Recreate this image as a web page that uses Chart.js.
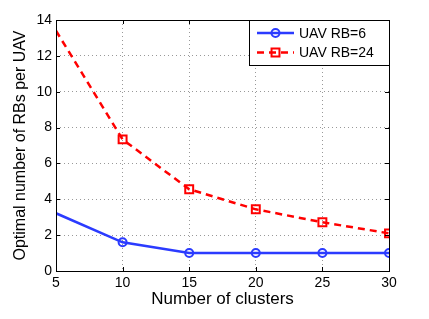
<!DOCTYPE html>
<html lang="en">
<head>
  <meta charset="UTF-8" />
  <title>Optimal number of RBs per UAV</title>
  <script src="https://cdn.jsdelivr.net/npm/chart.js"></script>
  <style>
    html, body { margin: 0; padding: 0; background: #fff; }
    #wrap { width: 429px; height: 319px; }
  </style>
</head>
<body>
  <div id="wrap"><canvas id="c" width="429" height="319"></canvas></div>
  <script>
    const clusters = [5, 10, 15, 20, 25, 30];
    const rb6 = [3.22, 1.6, 1.0, 1.0, 1.0, 1.0];
    const rb24 = [13.4, 7.34, 4.56, 3.44, 2.72, 2.1];
    const seriesNames = ['UAV RB=6', 'UAV RB=24'];
    const yTicks = [0, 2, 4, 6, 8, 10, 12, 14];

    const FONT = 'Liberation Sans, Arial, Helvetica, sans-serif';

    // black box + inward ticks, matlab style
    const frame = {
      id: 'frame',
      afterDatasetsDraw(chart) {
        const { ctx, chartArea: a, scales } = chart;
        ctx.save();
        ctx.strokeStyle = '#000';
        ctx.lineWidth = 1;
        ctx.beginPath();
        scales.x.ticks.forEach(t => {
          const px = Math.round(scales.x.getPixelForValue(t.value)) + 0.5;
          ctx.moveTo(px, a.bottom); ctx.lineTo(px, a.bottom - 4);
          ctx.moveTo(px, a.top); ctx.lineTo(px, a.top + 4);
        });
        scales.y.ticks.forEach(t => {
          const py = Math.round(scales.y.getPixelForValue(t.value)) + 0.5;
          ctx.moveTo(a.left, py); ctx.lineTo(a.left + 4, py);
          ctx.moveTo(a.right, py); ctx.lineTo(a.right - 4, py);
        });
        ctx.stroke();
        ctx.strokeRect(Math.round(a.left) + 0.5, Math.round(a.top) + 0.5,
          Math.round(a.right - a.left), Math.round(a.bottom - a.top));
        ctx.restore();
      }
    };

    const boxLegend = {
      id: 'boxLegend',
      afterDraw(chart) {
        const { ctx, chartArea: a } = chart;
        const w = 140, h = 45;
        const x0 = a.right - w, y0 = a.top;
        ctx.save();
        ctx.fillStyle = '#fff';
        ctx.fillRect(x0, y0, w, h);
        ctx.strokeStyle = '#000';
        ctx.lineWidth = 1;
        ctx.strokeRect(Math.round(x0) + 0.5, Math.round(y0) + 0.5, w, h);
        chart.data.datasets.forEach((ds, i) => {
          const cy = y0 + 13 + i * 19.5;
          const lx0 = x0 + 8, lx1 = x0 + 45, mx = (lx0 + lx1) / 2;
          ctx.strokeStyle = ds.borderColor;
          ctx.lineWidth = ds.borderWidth;
          ctx.setLineDash(ds.borderDash || []);
          ctx.beginPath();
          ctx.moveTo(lx0, cy); ctx.lineTo(lx1, cy);
          ctx.stroke();
          ctx.setLineDash([]);
          ctx.strokeStyle = ds.pointBorderColor;
          ctx.fillStyle = 'rgba(0,0,0,0)';
          ctx.lineWidth = ds.pointBorderWidth;
          Chart.helpers.drawPoint(ctx, {
            pointStyle: ds.pointStyle,
            radius: ds.legendRadius,
            borderWidth: ds.pointBorderWidth
          }, mx, cy);
          ctx.fillStyle = '#000';
          ctx.font = '14px ' + FONT;
          ctx.textBaseline = 'middle';
          ctx.fillText(ds.label, x0 + 50, cy + 1);
        });
        ctx.restore();
      }
    };

    new Chart(document.getElementById('c'), {
      type: 'line',
      data: {
        datasets: [{
          label: seriesNames[0],
          data: clusters.map((x, i) => ({ x, y: rb6[i] })),
          borderColor: '#2b3bff',
          borderWidth: 2.5,
          pointStyle: 'circle',
          pointRadius: clusters.map((_, i) => i === 0 ? 0 : 4),
          legendRadius: 4,
          pointBorderWidth: 2,
          pointBorderColor: '#2b3bff',
          pointBackgroundColor: 'rgba(0,0,0,0)',
          tension: 0
        }, {
          label: seriesNames[1],
          data: clusters.map((x, i) => ({ x, y: rb24[i] })),
          borderColor: '#ff0000',
          borderWidth: 2.5,
          borderDash: [7, 5],
          pointStyle: 'rect',
          pointRadius: clusters.map((_, i) => i === 0 ? 0 : 5.6),
          legendRadius: 5.6,
          pointBorderWidth: 2,
          pointBorderColor: '#ff0000',
          pointBackgroundColor: 'rgba(0,0,0,0)',
          tension: 0
        }]
      },
      options: {
        responsive: false,
        animation: false,
        devicePixelRatio: 1,
        layout: { padding: { top: 20, right: 40, left: 0, bottom: 0 } },
        plugins: { legend: { display: false }, tooltip: { enabled: false } },
        scales: {
          x: {
            type: 'linear',
            min: 5, max: 30,
            afterFit(s) { s.height = 48; },
            afterBuildTicks(s) { s.ticks = clusters.map(v => ({ value: v })); },
            ticks: { color: '#000', font: { family: FONT, size: 14 }, padding: 4, maxRotation: 0 },
            grid: { color: '#999', drawTicks: false },
            border: { display: false, dash: [1, 3] },
            title: {
              display: true, text: 'Number of clusters', color: '#000',
              font: { family: FONT, size: 17 }, padding: { top: 0, bottom: 9 }
            }
          },
          y: {
            min: 0, max: 14,
            afterFit(s) { s.width = 56; },
            afterBuildTicks(s) { s.ticks = yTicks.map(v => ({ value: v })); },
            ticks: { color: '#000', font: { family: FONT, size: 14 }, padding: 4 },
            grid: { color: '#999', drawTicks: false },
            border: { display: false, dash: [1, 3] },
            title: {
              display: true, text: 'Optimal number of RBs per UAV', color: '#000',
              font: { family: FONT, size: 16 }, padding: { top: 11, bottom: 0 }
            }
          }
        }
      },
      plugins: [frame, boxLegend]
    });
  </script>
</body>
</html>
